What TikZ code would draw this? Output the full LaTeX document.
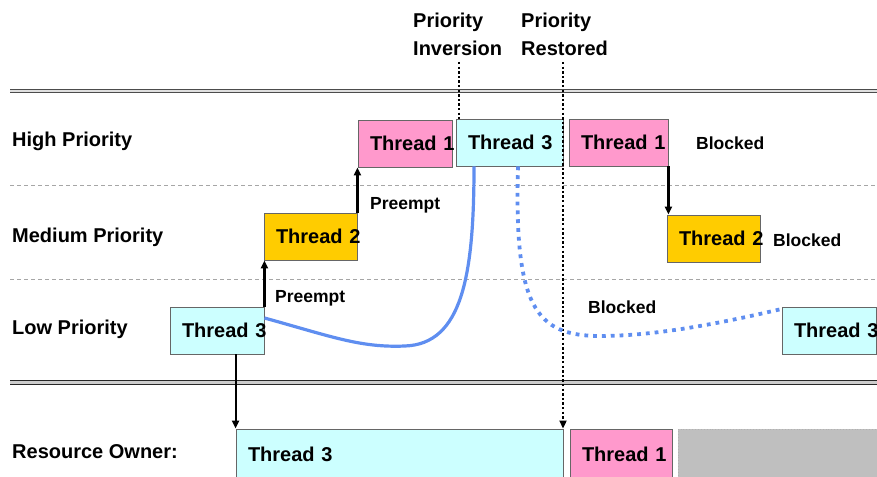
\documentclass[tikz,border=0pt]{standalone}
\usepackage{fontspec}
\setmainfont{Liberation Sans}
\usetikzlibrary{arrows.meta}
\definecolor{tcyan}{HTML}{CCFFFF}
\definecolor{tpink}{HTML}{FF99CC}
\definecolor{tgold}{HTML}{FFCC00}
\definecolor{tgray}{HTML}{BFBFBF}
\definecolor{tblue}{RGB}{95,142,240}
\begin{document}
\begin{tikzpicture}[x=1pt,y=1pt,
  box/.style={rectangle, draw=gray!80!black, line width=0.9pt, minimum height=47pt,
    inner xsep=12pt, inner ysep=0pt, align=left, font=\fontsize{20}{24}\selectfont\bfseries},
  rowlab/.style={anchor=west, inner sep=0pt, font=\fontsize{20}{24}\selectfont\bfseries},
  small/.style={anchor=west, inner sep=0pt, font=\fontsize{17.5}{21}\selectfont\bfseries},
  arr/.style={line width=2.1pt, -{Triangle[length=8pt,width=7pt]}},
  vdot/.style={line width=2.4pt, dash pattern=on 2.4pt off 2.2pt},
  sepline/.style={gray!70, line width=0.9pt, dash pattern=on 4pt off 3pt},
  bluesolid/.style={tblue, line width=3.2pt},
  bluedot/.style={tblue, line width=3.8pt, dash pattern=on 3.8pt off 5pt}
]
\useasboundingbox (0,0) rectangle (877,476);

% separators
\draw[draw=gray!60!black, line width=1.4pt, double=gray!25, double distance=1.6pt] (10,385) -- (877,385);
\draw[draw=black!85, line width=1.7pt, double=gray!40, double distance=2.5pt] (10,93.5) -- (877,93.5);
\draw[sepline] (10,291) -- (877,291);
\draw[sepline] (10,197) -- (877,197);

% row labels
\node[rowlab] (lhigh) at (12,335) {High Priority};
\node[rowlab] (lmed) at (12,239) {Medium Priority};
\node[rowlab] (llow) at (12,147) {Low Priority};
\node[rowlab] (lres) at (12,24) {Resource Owner:};

% top labels
\node[anchor=west, inner sep=0pt, align=left, font=\fontsize{20}{28}\selectfont\bfseries] (pinv) at (413,442) {Priority\\Inversion};
\node[anchor=west, inner sep=0pt, align=left, font=\fontsize{20}{28}\selectfont\bfseries] (prest) at (521,442) {Priority\\Restored};
\coordinate (pinvb) at (459,414);
\coordinate (presb) at (563,414);

% boxes
\node[box, fill=tcyan, text width=70pt] (lowA) at (217,145.5) {\mbox{Thread 3}};
\node[box, fill=tgold, text width=69pt] (medA) at (310.5,239.5) {\mbox{Thread 2}};
\node[box, fill=tpink, text width=70pt] (highA) at (405,332.5) {\mbox{Thread 1}};
\node[box, fill=tcyan, text width=83pt] (highB) at (509.5,333.5) {\mbox{Thread 3}};
\node[box, fill=tpink, text width=75pt] (highC) at (618.5,333.5) {\mbox{Thread 1}};
\node[box, fill=tgold, text width=69pt] (medB) at (713.5,237.5) {\mbox{Thread 2}};
\node[box, fill=tcyan, text width=70pt] (lowB) at (829,145.5) {\mbox{Thread 3}};
\node[box, fill=tcyan, text width=303pt, minimum height=50pt] (resA) at (399.5,22) {\mbox{Thread 3}};
\node[box, fill=tpink, text width=78pt, minimum height=50pt] (resB) at (621,22) {\mbox{Thread 1}};
\node[box, fill=tgray, draw=gray!60, dotted, text width=176pt, minimum height=50pt] (resC) at (778,22) {};

% small labels
\node[small] (bl1) at (696,333) {Blocked};
\node[small] (bl2) at (773,236) {Blocked};
\node[small] (bl3) at (588,169) {Blocked};
\node[small] (pr1) at (275,178) {Preempt};
\node[small] (pr2) at (370,271) {Preempt};

% arrows
\draw[arr] (lowA.north east) -- (lowA.north east |- medA.south);
\draw[arr] (medA.north east) -- (medA.north east |- highA.south);
\draw[arr] (resA.north west |- lowA.south) -- (resA.north west);
\draw[arr] (highC.south east) -- (highC.south east |- medB.north);

% dotted verticals
\draw[vdot] (pinvb) -- (pinvb |- highB.north);
\draw[vdot, -{Triangle[length=8pt,width=7pt]}] (presb) -- (presb |- resA.north);

% blue curves
\draw[bluesolid] (lowA.east |- 0,158) .. controls (330,140) and (360,128) .. (405,130)
  .. controls (462,132) and (474,200) .. (highB.south -| 474,0);
\draw[bluedot] (highB.south -| 518,0) .. controls (514,170) and (535,140) .. (600,140)
  .. controls (660,140) and (730,155) .. (lowB.north west |- 0,167);
\end{tikzpicture}
\end{document}
